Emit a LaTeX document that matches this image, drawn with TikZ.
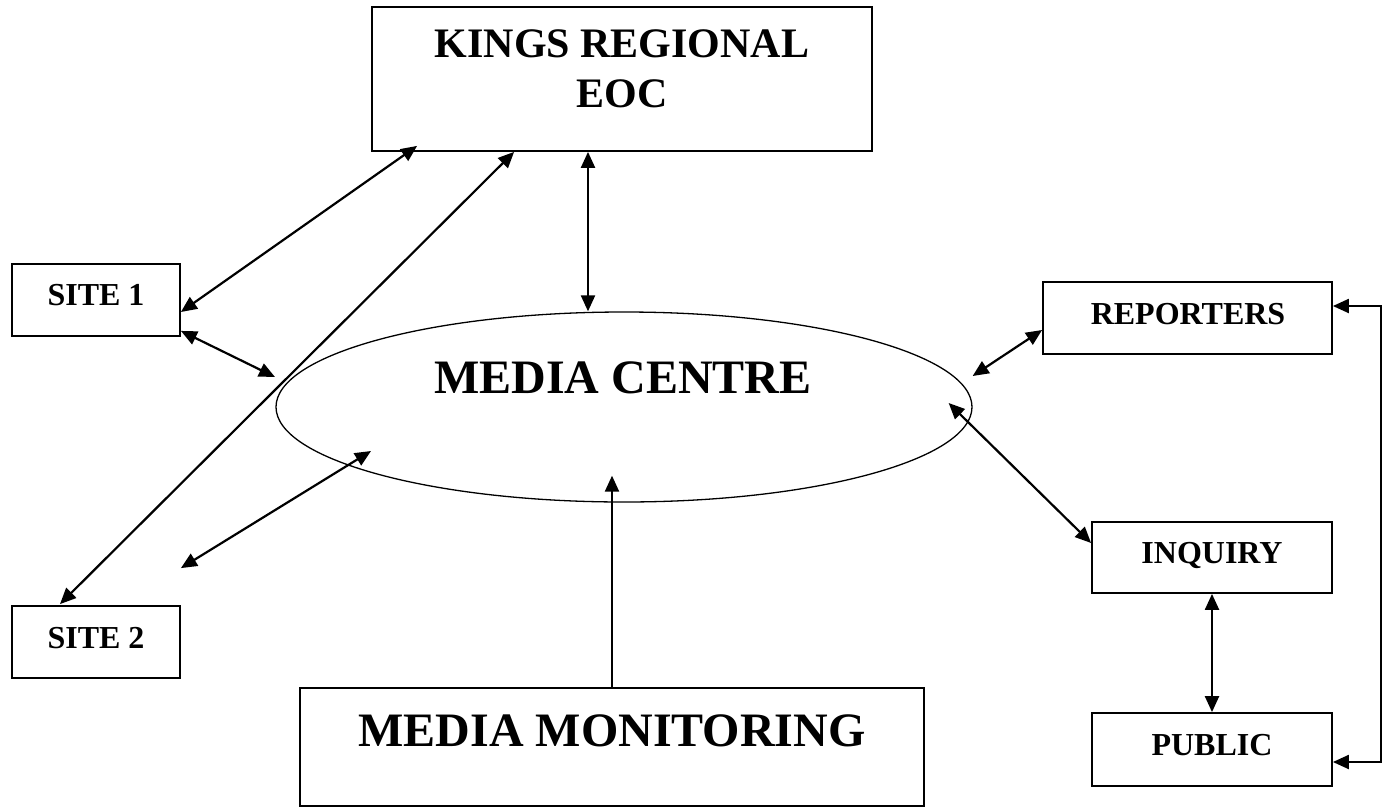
\documentclass[tikz,border=0pt]{standalone}
\usepackage{fontspec}
\setmainfont{Liberation Serif}
\usetikzlibrary{shapes.geometric,arrows.meta,calc}
\begin{document}
\begin{tikzpicture}[x=1pt,y=-1pt,
  box/.style={draw,line width=1.8pt,rectangle,inner sep=0pt},
  oval/.style={draw,line width=1.3pt,ellipse,inner sep=0pt},
  conn/.style={line width=2.2pt,>={Triangle[length=16pt,width=14pt]}},
  lbl/.style={inner sep=0pt,anchor=base,font=\bfseries}]
\useasboundingbox (0,0) rectangle (1387,809);
% boxes
\node[box,minimum width=500pt,minimum height=144pt] (eoc) at (622,79) {};
\node[box,minimum width=168pt,minimum height=72pt] (site1) at (96,300) {};
\node[box,minimum width=168pt,minimum height=72pt] (site2) at (96,642) {};
\node[box,minimum width=624pt,minimum height=118pt] (mm) at (612,747) {};
\node[box,minimum width=289pt,minimum height=72pt] (rep) at (1187.5,318) {};
\node[box,minimum width=240pt,minimum height=71pt] (inq) at (1212,557.5) {};
\node[box,minimum width=240pt,minimum height=73pt] (pub) at (1212,749.5) {};
\node[oval,minimum width=696pt,minimum height=190pt] (mc) at (624,407) {};
% labels
\node[lbl,font=\bfseries\fontsize{42}{50}\selectfont] (eoct1) at (622,57) {KINGS REGIONAL};
\node[lbl,font=\bfseries\fontsize{42}{50}\selectfont] (eoct2) at (622,107) {EOC};
\node[lbl,font=\bfseries\fontsize{48}{56}\selectfont] (mct) at (623,393) {MEDIA CENTRE};
\node[lbl,font=\bfseries\fontsize{48}{56}\selectfont] (mmt) at (612,746) {MEDIA MONITORING};
\node[lbl,font=\bfseries\fontsize{32}{38}\selectfont] (s1t) at (96,305) {SITE 1};
\node[lbl,font=\bfseries\fontsize{32}{38}\selectfont] (s2t) at (96,648) {SITE 2};
\node[lbl,font=\bfseries\fontsize{32}{38}\selectfont] (rept) at (1188,324) {REPORTERS};
\node[lbl,font=\bfseries\fontsize{32}{38}\selectfont] (inqt) at (1212,563) {INQUIRY};
\node[lbl,font=\bfseries\fontsize{32}{38}\selectfont] (pubt) at (1212,755) {PUBLIC};
% connectors
\draw[conn,<->] ($(eoc.south west)+(46,-6)$) -- ($(site1.east)+(0,12)$);
\draw[conn,<->] ($(eoc.south west)+(143,0)$) -- ($(site2.north)+(-36,-1)$);
\draw[conn,<->] ($(eoc.south)+(-34,0)$) -- ($(mc.north)+(-36,0)$);
\draw[conn,<->] ($(site1.south east)+(0,-6)$) -- ($(mc.center)+(-349,-30)$);
\draw[conn,<->] ($(site2.north east)+(0,-37)$) -- ($(mc.center)+(-253,44)$);
\draw[conn,->] (mm.north) -- ($(mc.south)+(-12,-27)$);
\draw[conn,<->] ($(mc.east)+(0,-31)$) -- ($(rep.west)+(0,12)$);
\draw[conn,<->] ($(mc.east)+(-24,-4)$) -- ($(inq.west)+(0,-14.5)$);
\draw[conn,<->] (inq.south) -- (pub.north);
\draw[conn,<->] ($(rep.east)+(0,-12)$) -- ++(48,0) |- ($(pub.east)+(0,12.5)$);
\end{tikzpicture}
\end{document}
